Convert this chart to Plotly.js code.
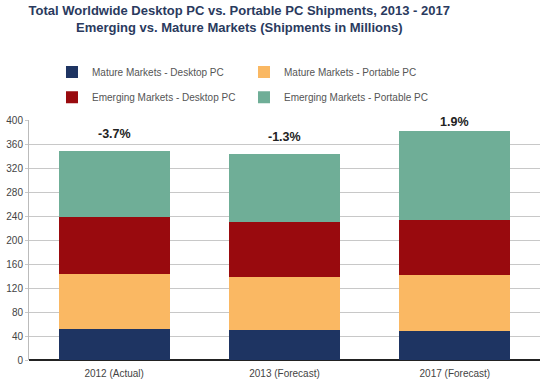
<!DOCTYPE html>
<html>
<head>
<meta charset="utf-8">
<script src="https://cdn.plot.ly/plotly-3.0.1.min.js"></script>
<style>html,body{margin:0;padding:0;background:#fff}#chart{width:550px;height:384px}</style>
</head>
<body>
<div id="chart"></div>
<script>
const categories = ["2012 (Actual)", "2013 (Forecast)", "2017 (Forecast)"];
const matureDesktop = [52, 50, 48];
const maturePortable = [91, 89, 94];
const emergingDesktop = [96, 91, 91];
const emergingPortable = [110, 114, 148];
const growthLabels = ["-3.7%", "-1.3%", "1.9%"];
const yTicks = [0, 40, 80, 120, 160, 200, 240, 280, 320, 360, 400];

const font = "'Liberation Sans', Arial, sans-serif";
function bar(name, vals, color, legend) {
  return {type: "bar", name: name, x: categories, y: vals, legend: legend,
    marker: {color: color, line: {width: 0}}, hoverinfo: "y+name"};
}
const data = [
  bar("Mature Markets - Desktop PC", matureDesktop, "#1e3462", "legend"),
  bar("Mature Markets - Portable PC", maturePortable, "#fab863", "legend"),
  bar("Emerging Markets - Desktop PC", emergingDesktop, "#990a0e", "legend2"),
  bar("Emerging Markets - Portable PC", emergingPortable, "#6fae97", "legend2")
];
const totals = categories.map((c, i) => matureDesktop[i] + maturePortable[i] + emergingDesktop[i] + emergingPortable[i]);
const annotations = categories.map((c, i) => ({
  x: c, y: Math.min(totals[i] + 28, 397), xref: "x", yref: "y",
  text: "<b>" + growthLabels[i] + "</b>", showarrow: false,
  font: {family: font, size: 12.5, color: "#222"}
}));
const legendCommon = {orientation: "h", entrywidth: 147, entrywidthmode: "pixels",
  traceorder: "normal", font: {family: font, size: 10, color: "#555"},
  xanchor: "left", yanchor: "middle", bgcolor: "rgba(0,0,0,0)"};
const layout = {
  width: 550, height: 384,
  margin: {l: 29, r: 10, t: 120, b: 24},
  paper_bgcolor: "#fff", plot_bgcolor: "#fff",
  barmode: "stack", bargap: 0.35,
  title: {text: "<b>Total Worldwide Desktop PC vs. Portable PC Shipments, 2013 - 2017<br>Emerging vs. Mature Markets (Shipments in Millions)</b>",
    x: 0.435, xanchor: "center", y: 0.96, yanchor: "top", yref: "container",
    font: {family: font, size: 13, color: "#2a3a5e"}},
  legend: Object.assign({}, legendCommon, {x: 0.045, y: 1.2}),
  legend2: Object.assign({}, legendCommon, {x: 0.045, y: 1.095}),
  xaxis: {type: "category", tickfont: {family: font, size: 10, color: "#444"},
    showline: false, ticks: "", ticklabelstandoff: 6, fixedrange: true},
  yaxis: {range: [0, 400], tickvals: yTicks, ticktext: yTicks.map(String),
    tickfont: {family: font, size: 10, color: "#444"},
    showgrid: true, gridcolor: "#c8c8c8", gridwidth: 1,
    zeroline: true, zerolinecolor: "#222", zerolinewidth: 2,
    showline: true, linecolor: "#bbb", linewidth: 1,
    ticks: "outside", ticklen: 3, tickcolor: "#c8c8c8", fixedrange: true},
  annotations: annotations,
  showlegend: true
};
Plotly.newPlot("chart", data, layout, {displayModeBar: false, staticPlot: true});
</script>
</body>
</html>
